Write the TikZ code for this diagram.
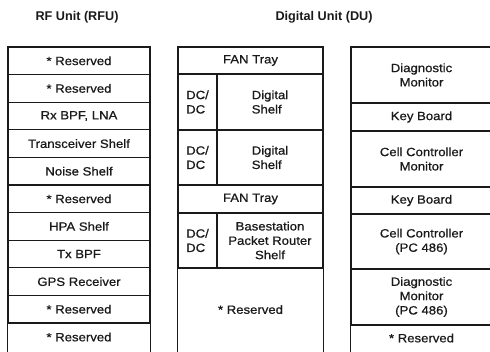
\documentclass[tikz,border=0pt]{standalone}
\usepackage{fontspec}
\setmainfont{Liberation Sans}
\newfontfamily\cellfont[FakeStretch=1.1,FakeBold=0.8]{Liberation Sans}
\definecolor{ink}{HTML}{1A1A1A}

\tikzset{
  cell/.style={draw=ink, line width=0.8pt, inner sep=0pt, align=center, text=ink,
    font=\cellfont\fontsize{8.5}{10.2}\selectfont},
  cellopen/.style={cell, draw=none},
  size/.style 2 args={minimum width={#1*0.025cm}, minimum height={#2*0.025cm}},
  head/.style={text=ink, font=\fontsize{9}{11}\selectfont\bfseries}
}

\begin{document}
\begin{tikzpicture}[x=0.025cm, y=-0.025cm]
  \useasboundingbox (0,0) rectangle (490,351);
  \clip (0,0) rectangle (490,351);
  \node[head] (rfu) at (77,17) {RF Unit (RFU)};
  \node[head] (du) at (324,17) {Digital Unit (DU)};

  % RF unit column
  \foreach \txt [count=\i] in {{* Reserved}, {* Reserved}, {Rx BPF, LNA}, {Transceiver Shelf},
      {Noise Shelf}, {* Reserved}, {HPA Shelf}, {Tx BPF}, {GPS Receiver}, {* Reserved}}
    \node[cell, size={142}{27.6}] (rf\i) at (79,{47+27.6*(\i-0.5)}) {\txt};
  \node[cellopen, size={142}{28}] (rf11) at (79,337) {* Reserved};
  \draw[ink, line width=0.8pt] (rf11.south west) -- (rf11.north west) -- (rf11.north east) -- (rf11.south east);

  % digital unit, shelves
  \node[cell, size={145}{27}] (fan1) at (250.5,60.5) {FAN Tray};
  \node[cell, align=left, size={39}{56}] (dc1) at (197.5,102) {DC/\\DC};
  \node[cell, align=left, size={106}{56}] (dig1) at (270,102) {Digital\\Shelf};
  \node[cell, align=left, size={39}{55}] (dc2) at (197.5,157.5) {DC/\\DC};
  \node[cell, align=left, size={106}{55}] (dig2) at (270,157.5) {Digital\\Shelf};
  \node[cell, size={145}{28}] (fan2) at (250.5,199) {FAN Tray};
  \node[cell, align=left, size={39}{55}] (dc3) at (197.5,240.5) {DC/\\DC};
  \node[cell, size={106}{55}] (bpr) at (270,240.5) {Basestation\\Packet Router\\Shelf};
  \node[cellopen, size={145}{83}] (dures) at (250.5,309.5) {* Reserved};
  \draw[ink, line width=0.8pt] (dures.south west) -- (dures.north west) -- (dures.north east) -- (dures.south east);

  % digital unit, consoles
  \node[cell, size={141}{56}] (diag1) at (421.5,75) {Diagnostic\\Monitor};
  \node[cell, size={141}{28}] (kb1) at (421.5,117) {Key Board};
  \node[cell, size={141}{56}] (ccmon) at (421.5,159) {Cell Controller\\Monitor};
  \node[cell, size={141}{27}] (kb2) at (421.5,200.5) {Key Board};
  \node[cell, size={141}{55}] (cc) at (421.5,241.5) {Cell Controller\\(PC 486)};
  \node[cell, size={141}{56}] (diag2) at (421.5,297) {Diagnostic\\Monitor\\(PC 486)};
  \node[cellopen, size={141}{26}] (cres) at (421.5,338) {* Reserved};
  \draw[ink, line width=0.8pt] (cres.south west) -- (cres.north west) -- (cres.north east) -- (cres.south east);
\end{tikzpicture}
\end{document}
